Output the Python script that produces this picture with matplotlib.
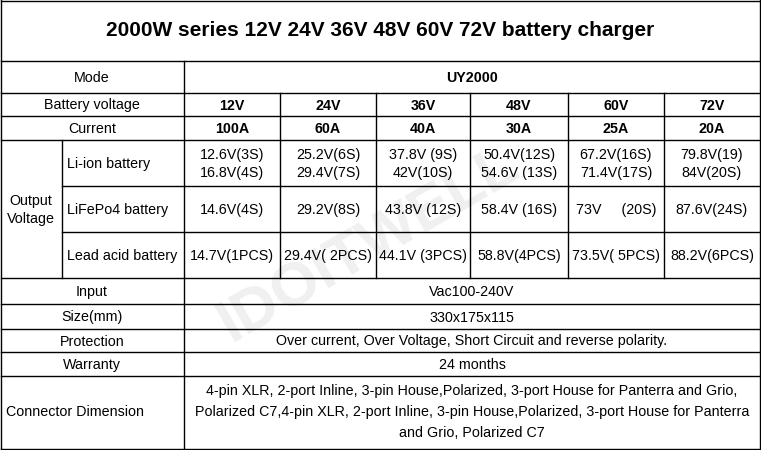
import matplotlib
matplotlib.use("Agg")
import matplotlib.pyplot as plt

title = "2000W series 12V 24V 36V 48V 60V 72V battery charger"
model = "UY2000"
voltages = ["12V", "24V", "36V", "48V", "60V", "72V"]
currents = ["100A", "60A", "40A", "30A", "25A", "20A"]
liion = ["12.6V(3S)\n16.8V(4S)", "25.2V(6S)\n29.4V(7S)", "37.8V (9S)\n42V(10S)",
         "50.4V(12S)\n54.6V (13S)", "67.2V(16S)\n71.4V(17S)", "79.8V(19)\n84V(20S)"]
lifepo4 = ["14.6V(4S)", "29.2V(8S)", "43.8V (12S)", "58.4V (16S)", "73V     (20S)", "87.6V(24S)"]
lead = ["14.7V(1PCS)", "29.4V( 2PCS)", "44.1V (3PCS)", "58.8V(4PCS)", "73.5V( 5PCS)", "88.2V(6PCS)"]
input_v = "Vac100-240V"
size = "330x175x115"
protection = "Over current, Over Voltage, Short Circuit and reverse polarity."
warranty = "24 months"
connector = ("4-pin XLR, 2-port Inline, 3-pin House,Polarized, 3-port House for Panterra and Grio,\n"
             "Polarized C7,4-pin XLR, 2-port Inline, 3-pin House,Polarized, 3-port House for Panterra\n"
             "and Grio, Polarized C7")

plt.rcParams['font.family'] = ['Liberation Sans', 'DejaVu Sans']
fig = plt.figure(figsize=(7.61, 4.5), dpi=100)
ax = fig.add_axes([0, 0, 1, 1])
ax.set_xlim(0, 761); ax.set_ylim(450, 0); ax.axis('off')

W = 760
cols = [184, 280, 376, 470, 568, 664, 760]
lw = 1.0
def hl(y, x0=1, x1=W): ax.plot([x0, x1], [y, y], color='black', lw=lw)
def vl(x, y0, y1): ax.plot([x, x], [y0, y1], color='black', lw=lw)

for y in [0.5, 61, 93, 116, 140, 278, 304, 329, 352, 376, 449]:
    hl(y)
for y in [186, 232]:
    hl(y, 62, W)
vl(1, 0, 449); vl(W, 0, 449)
vl(184, 61, 449); vl(62, 140, 278)
for x in cols[1:-1]:
    vl(x, 93, 278)

fs = 10.3
def t(x, y, s, **kw):
    kw.setdefault('ha', 'center'); kw.setdefault('fontsize', fs)
    ls = kw.pop('ls', 1.45)
    ax.text(x, y + 1, s, va='center', linespacing=ls, **kw)

# watermark
ax.text(370, 245, "IDOITWELL", fontsize=44, fontweight='bold', color='#f0f0f0',
        rotation=30, ha='center', va='center', zorder=0)

t(380, 30, title, fontsize=15, fontweight='bold')
t(92, 77, "Mode"); t(472, 77, model, fontweight='bold')
t(92, 104.5, "Battery voltage"); t(92, 128, "Current")
t(31, 209, "Output\nVoltage")
t(67, 163, "Li-ion battery", ha='left')
t(67, 209, "LiFePo4 battery", ha='left')
t(67, 255, "Lead acid battery", ha='left')
for i in range(6):
    cx = (cols[i] + cols[i + 1]) / 2
    t(cx, 104.5, voltages[i], fontweight='bold')
    t(cx, 128, currents[i], fontweight='bold')
    t(cx, 163, liion[i])
    t(cx, 209, lifepo4[i])
    t(cx, 255, lead[i])
labels = ["Input", "Size(mm)", "Protection", "Warranty", "Connector Dimension"]
vals = [input_v, size, protection, warranty, connector]
ys = [291, 316.5, 340.5, 364, 411]
for lab, v, y in zip(labels, vals, ys):
    t(92 if lab != "Connector Dimension" else 75, y, lab)
    t(472, y, v, ls=1.6)

fig.savefig("out.png", dpi=100)
